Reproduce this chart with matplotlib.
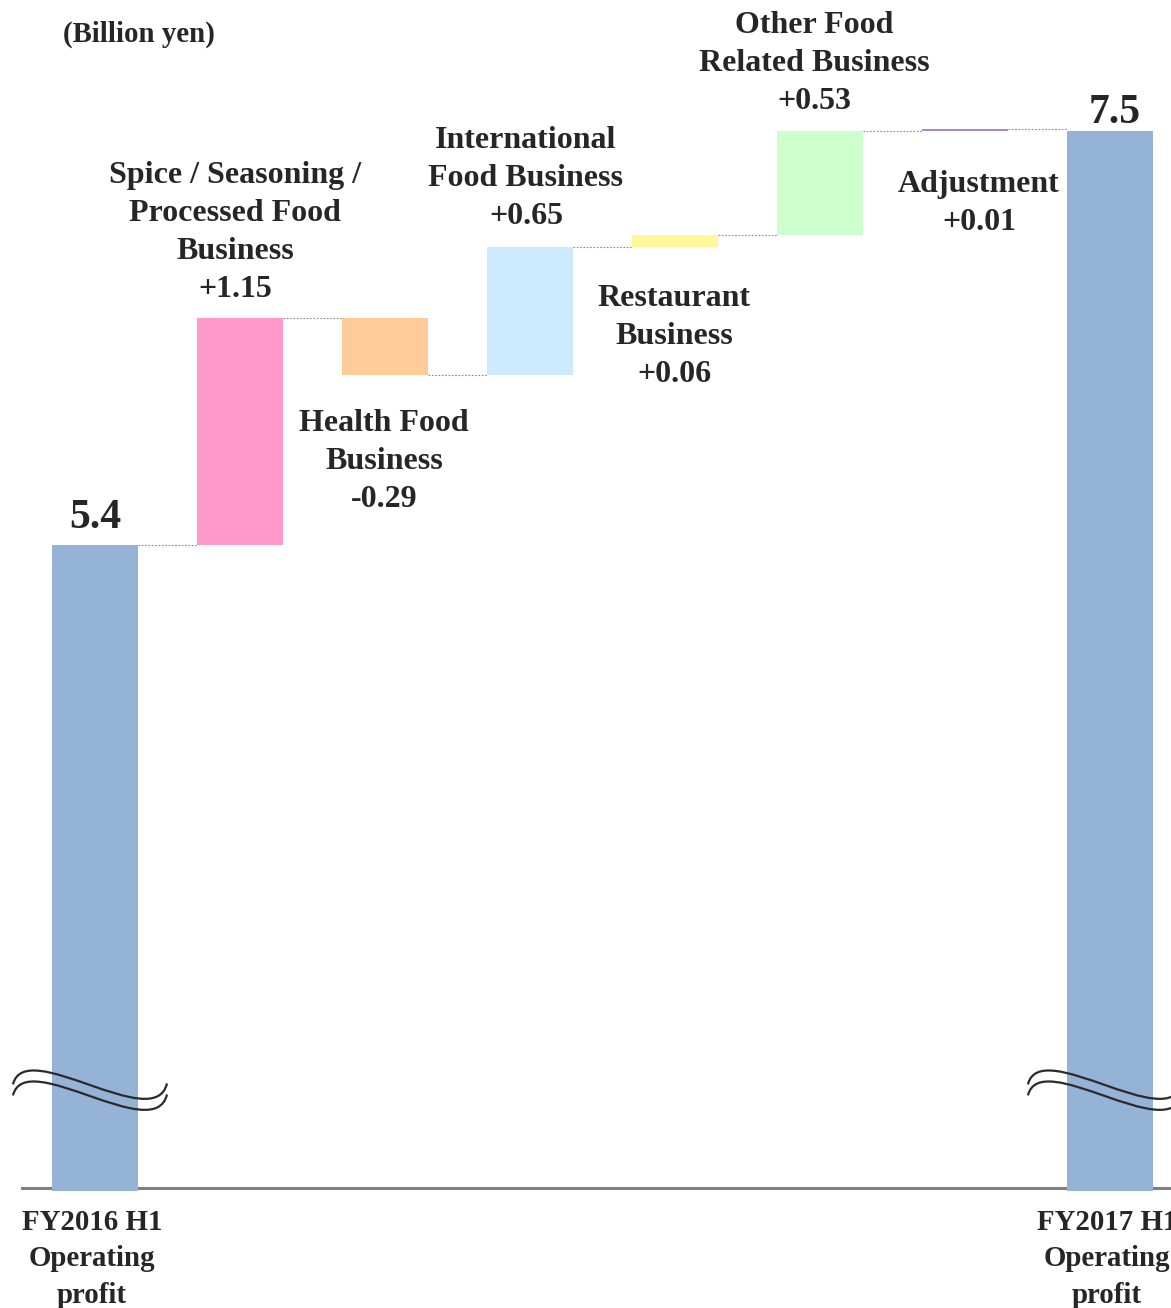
import numpy as np
import matplotlib.pyplot as plt
import matplotlib.transforms as mtransforms
from matplotlib.path import Path
from matplotlib.patches import PathPatch

# data (billion yen)
start_val = 5.4
end_val = 7.5
steps = [1.15, -0.29, 0.65, 0.06, 0.53, 0.01]
step_names = ["Spice / Seasoning /\nProcessed Food\nBusiness",
              "Health Food\nBusiness",
              "International\nFood Business",
              "Restaurant\nBusiness",
              "Other Food\nRelated Business",
              "Adjustment"]
step_colors = ["#FF99CC", "#FFCC99", "#CCEBFF", "#FFF799", "#CCFFCC", "#A48BC6"]
end_labels = ["FY2016 H1\nOperating\nprofit", "FY2017 H1\nOperating\nprofit"]
end_color = "#95B3D7"

# label positions (data units)
lab_x = [0.966, 1.993, 2.972, 3.993, 4.959, 6.097]
lab_y = [6.983, 5.822, 7.257, 6.456, 7.843, 7.133]

txt_col = "#262626"
plt.rcParams['font.family'] = ['Liberation Serif', 'DejaVu Serif']
plt.rcParams['font.weight'] = 'bold'

W, H = 1171, 1308
fig = plt.figure(figsize=(W / 100, H / 100), dpi=100)
ax = fig.add_axes([0, 1 - 1191 / H, 1, 1191 / H])
ax.set_xlim(-0.655, 7.421)
ax.set_ylim(2.1231, 8.1645)
ax.axis('off')

bw = 0.593
n = len(steps)

# start / end bars
ax.bar(0, start_val, width=bw, color=end_color, zorder=3)
ax.bar(n + 1, end_val, width=bw, color=end_color, zorder=3)

# step bars
level = start_val
levels = [level]
for i, v in enumerate(steps):
    lo = min(level, level + v)
    ax.bar(i + 1, abs(v), bottom=lo, width=bw, color=step_colors[i], zorder=3)
    level += v
    levels.append(level)

# connectors
for i in range(n + 1):
    ax.plot([i + bw / 2, i + 1 - bw / 2], [levels[i], levels[i]],
            color="#8c8c8c", lw=0.8, ls=(0, (1.5, 1.5)), zorder=2)

# axis base line
ax.plot([-0.503, 7.5], [2.138, 2.138], color="#808080", lw=2.2, zorder=2,
        clip_on=False)

# step labels
for i, v in enumerate(steps):
    ax.text(lab_x[i], lab_y[i], "%s\n%+.2f" % (step_names[i], v),
            ha='center', va='center', fontsize=23, fontweight='bold',
            color=txt_col, linespacing=1.41)

ax.text(0, 5.535, "%.1f" % start_val, ha='center', va='center',
        fontsize=30, fontweight='bold', color=txt_col)
ax.text(7.03, 7.59, "%.1f" % end_val, ha='center', va='center',
        fontsize=30, fontweight='bold', color=txt_col)

# x labels
trans = mtransforms.blended_transform_factory(ax.transData, fig.transFigure)
for xi, lab in zip([-0.02, 6.98], end_labels):
    ax.text(xi, 1 - 1259 / H, lab, transform=trans,
            ha='center', va='center', fontsize=20.8, fontweight='bold',
            color=txt_col, linespacing=1.44)

fig.text(139 / W, 1 - 34 / H, "(Billion yen)", ha='center', va='center',
         fontsize=20.8, fontweight='bold', color=txt_col)

# break marks (wavy double lines)
sx, sy = 145.0, 197.14
base = [(-82, -1), (-70, -50), (60, 50), (72, -2)]
for xc in [0, n + 1]:
    for off in [0, 11]:
        verts = [(xc + px / sx, 2.6587 - (py + off) / sy) for px, py in base]
        p = Path(verts, [Path.MOVETO, Path.CURVE4, Path.CURVE4, Path.CURVE4])
        ax.add_patch(PathPatch(p, fill=False, ec="#2a2a2a", lw=1.6, zorder=4,
                               clip_on=False))

fig.savefig("out.png", dpi=100)
